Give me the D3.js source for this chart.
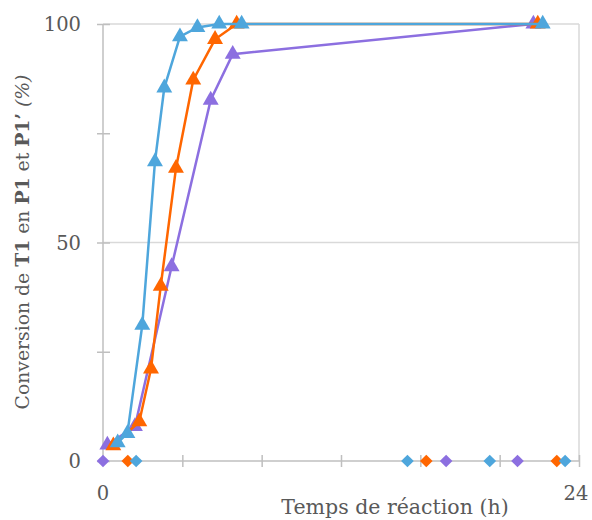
<!DOCTYPE html>
<html><head><meta charset="utf-8">
<script src="https://cdn.jsdelivr.net/npm/d3@7"></script>
<style>body{margin:0;background:#fff;} svg{display:block;}</style>
</head><body>
<svg id="c" width="592" height="520"></svg>
<script>
// Data (time in h, conversion in %)
const blueT = [0.74, 1.23, 1.98, 2.62, 3.09, 3.88, 4.76, 5.86, 6.99, 22.17];
const blueV = [4.2, 6.3, 31.1, 68.5, 85.4, 97.1, 99.2, 100, 100, 100];
const orangeT = [0.52, 1.83, 2.42, 2.91, 3.68, 4.55, 5.65, 6.74, 21.92];
const orangeV = [3.5, 9.0, 21.1, 40.0, 67.0, 87.2, 96.5, 100, 100];
const purpleT = [0.22, 1.61, 3.46, 5.43, 6.54, 21.7];
const purpleV = [3.7, 7.9, 44.5, 82.6, 93.1, 100];
const blueDiamondT = [1.67, 15.35, 19.5, 23.3];
const orangeDiamondT = [1.25, 16.3, 22.88];
const purpleDiamondT = [0, 17.3, 20.9];
const xTickLabels = [0, 24];
const yTickLabels = [0, 50, 100];

const svg = d3.select("#c");
const x = d3.scaleLinear().domain([0, 24]).range([103, 579]);
const y = d3.scaleLinear().domain([0, 100]).range([461, 24]);
const font = "'DejaVu Serif', serif";
const txt = "#595959";

// gridlines
const grid = svg.append("g");
[50, 100].forEach(v => grid.append("line").attr("x1", x(0)).attr("x2", x(24))
  .attr("y1", y(v)).attr("y2", y(v)).attr("stroke", "#d9d9d9").attr("stroke-width", 1.5));
grid.append("line").attr("x1", x(24)).attr("x2", x(24)).attr("y1", y(100)).attr("y2", y(0))
  .attr("stroke", "#d9d9d9").attr("stroke-width", 1.5);

// y axis
const yAxis = d3.axisLeft(y).tickValues([0, 25, 50, 75, 100]).tickSizeInner(-6).tickSizeOuter(0).tickFormat("");
const ya = svg.append("g").attr("transform", `translate(${x(0)},0)`).call(yAxis);
ya.select(".domain").attr("stroke", "#bfbfbf").attr("stroke-width", 1.5).attr("d", `M0,${y(100)}V${y(0)+5}`);
ya.selectAll(".tick line").attr("stroke", "#bfbfbf").attr("stroke-width", 1.5).attr("x1", -6).attr("x2", 7);
svg.append("g").selectAll("text").data(yTickLabels).join("text")
  .attr("x", 81).attr("y", d => y(d) + 7).attr("text-anchor", "end")
  .attr("font-family", font).attr("font-size", 19.5).attr("fill", txt).text(d => d);

// x axis
const xAxis = d3.axisBottom(x).tickValues([0, 4, 8, 12, 16, 20, 24]).tickSizeOuter(0).tickFormat("");
const xa = svg.append("g").attr("transform", `translate(0,${y(0)})`).call(xAxis);
xa.select(".domain").attr("stroke", "#bfbfbf").attr("stroke-width", 1.5).attr("d", `M${x(0)},0H${x(24)}`);
xa.selectAll(".tick line").attr("stroke", "#bfbfbf").attr("stroke-width", 1.5).attr("y1", -6).attr("y2", 6);
xa.selectAll(".tick").filter(d => d === 0).select("line").remove();
svg.append("g").selectAll("text").data(xTickLabels).join("text")
  .attr("x", d => x(d) + (d === 24 ? -3 : 0)).attr("y", 500).attr("text-anchor", "middle")
  .attr("font-family", font).attr("font-size", 19.5).attr("fill", txt).text(d => d);

// axis titles
svg.append("text").attr("x", 395).attr("y", 514).attr("text-anchor", "middle")
  .attr("font-family", font).attr("font-size", 20.5).attr("fill", txt).text("Temps de réaction (h)");
const yt = svg.append("text").attr("transform", "translate(29,242) rotate(-90)").attr("text-anchor", "middle")
  .attr("font-family", font).attr("font-size", 18.8).attr("fill", txt);
yt.append("tspan").text("Conversion de ");
yt.append("tspan").attr("font-weight", "bold").text("T1");
yt.append("tspan").text(" en ");
yt.append("tspan").attr("font-weight", "bold").text("P1");
yt.append("tspan").text(" et ");
yt.append("tspan").attr("font-weight", "bold").text("P1’");
yt.append("tspan").attr("font-style", "italic").text(" (%)");

// series
const series = [
  {t: purpleT, v: purpleV, c: "#8c6fe0"},
  {t: orangeT, v: orangeV, c: "#ff6600"},
  {t: blueT, v: blueV, c: "#4ea6dc"}
];
const line = d3.line().x(d => x(d[0])).y(d => y(d[1]));
const tri = d3.symbol().type(d3.symbolTriangle).size(110);
const dia = d3.symbol().type(d3.symbolSquare).size(80);

// diamonds
const diamonds = [
  {t: purpleDiamondT, c: "#8c6fe0"},
  {t: orangeDiamondT, c: "#ff6600"},
  {t: blueDiamondT, c: "#4ea6dc"}
];
diamonds.forEach(s => {
  svg.append("g").selectAll("path").data(s.t).join("path")
    .attr("d", dia).attr("fill", s.c)
    .attr("transform", d => `translate(${x(d)},${y(0)}) rotate(45)`);
});

series.forEach(s => {
  const pts = s.t.map((t, i) => [t, s.v[i]]);
  const g = svg.append("g");
  g.append("path").datum(pts).attr("d", line).attr("fill", "none")
    .attr("stroke", s.c).attr("stroke-width", 2.5);
  g.selectAll("path.m").data(pts).join("path").attr("class", "m")
    .attr("d", tri).attr("fill", s.c)
    .attr("transform", d => `translate(${x(d[0])},${y(d[1])})`);
});
</script>
</body></html>
